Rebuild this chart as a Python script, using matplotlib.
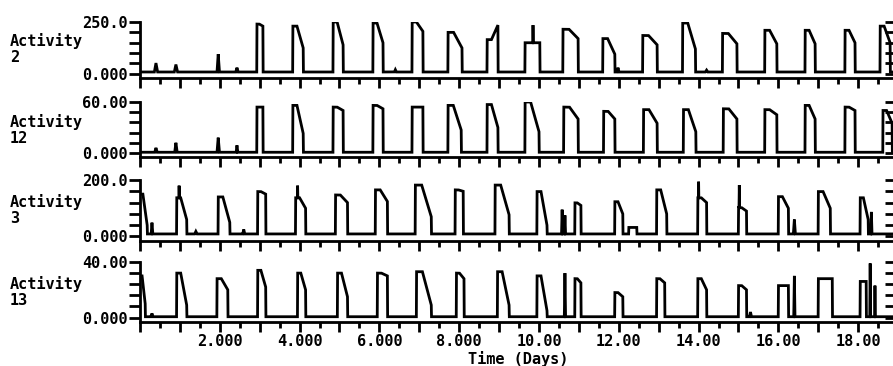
#!/usr/bin/env python3
"""Four stacked activity traces over the recording period."""

import matplotlib

matplotlib.use("Agg")
import matplotlib.pyplot as plt
from matplotlib.ticker import FixedLocator, FuncFormatter, MultipleLocator
import numpy as np


CHANNELS = ["2", "12", "3", "13"]
Y_MAX = [250.0, 60.0, 200.0, 40.0]
Y_MAX_LABELS = ["250.0", "60.00", "200.0", "40.00"]
BASELINE = [9.0, 0.8, 9.0, 0.6]

# daily bursts per channel: (onset day, offset day, peak level, level at offset)
BURSTS_2 = [
    (2.93, 3.08, 240, 230), (3.83, 4.09, 230, 125), (4.84, 5.09, 250, 140),
    (5.84, 6.09, 245, 150), (6.82, 7.09, 250, 205), (7.72, 8.07, 200, 125),
    (8.70, 8.97, 165, 235), (9.65, 10.02, 150, 150), (10.60, 10.98, 215, 170),
    (11.60, 11.90, 170, 95), (12.60, 12.96, 185, 140), (13.60, 13.92, 245, 120),
    (14.60, 14.96, 195, 145), (15.66, 15.96, 210, 145), (16.67, 16.92, 210, 145),
    (17.67, 17.92, 210, 150), (18.55, 18.80, 230, 150),
]
BURSTS_12 = [
    (2.93, 3.08, 54, 54), (3.83, 4.09, 56, 23), (4.84, 5.09, 54, 50),
    (5.84, 6.09, 56, 52), (6.82, 7.09, 54, 54), (7.72, 8.05, 56, 27),
    (8.70, 8.97, 57, 30), (9.65, 10.00, 60, 25), (10.62, 10.98, 54, 40),
    (11.62, 11.90, 49, 40), (12.62, 12.96, 51, 35), (13.62, 13.93, 51, 25),
    (14.62, 14.96, 52, 40), (15.66, 15.96, 51, 45), (16.67, 16.92, 56, 40),
    (17.67, 17.92, 54, 50), (18.62, 18.85, 50, 35),
]
BURSTS_3 = [
    (0.00, 0.18, 150, 40), (0.92, 1.17, 137, 60), (1.96, 2.25, 140, 50),
    (2.95, 3.15, 159, 150), (3.90, 4.15, 137, 100), (4.90, 5.20, 147, 120),
    (5.90, 6.20, 165, 124), (6.90, 7.30, 182, 70), (7.90, 8.10, 165, 160),
    (8.90, 9.25, 182, 77), (9.95, 10.20, 159, 40), (10.90, 11.05, 119, 110),
    (11.90, 12.10, 123, 80), (12.25, 12.45, 32, 32), (12.95, 13.20, 165, 80),
    (13.98, 14.20, 137, 120), (15.00, 15.20, 102, 90), (16.00, 16.25, 141, 100),
    (17.00, 17.30, 159, 100), (18.05, 18.25, 137, 60),
]
BURSTS_13 = [
    (0.00, 0.13, 30, 10), (0.92, 1.17, 32, 9), (1.93, 2.20, 28, 20),
    (2.95, 3.15, 34, 22), (3.95, 4.15, 32, 20), (4.95, 5.20, 32, 15),
    (5.95, 6.20, 32, 30), (6.93, 7.30, 33, 9), (7.93, 8.12, 32, 28),
    (8.96, 9.25, 33, 9), (9.95, 10.20, 30, 5), (10.90, 11.05, 28, 25),
    (11.90, 12.10, 18, 15), (12.95, 13.15, 28, 25), (13.98, 14.20, 28, 20),
    (15.00, 15.20, 23, 20), (16.00, 16.25, 23, 23), (17.00, 17.35, 28, 28),
    (18.05, 18.20, 26, 26),
]

# short isolated spikes: (day, level, width in days)
SPIKES_2 = [
    (0.40, 52, 0.08), (0.90, 45, 0.08), (1.96, 95, 0.06), (2.43, 30, 0.06),
    (9.85, 235, 0.03), (11.98, 30, 0.05), (6.40, 20, 0.05), (14.2, 18, 0.06),
]
SPIKES_12 = [(0.40, 6, 0.06), (0.90, 12, 0.06), (1.96, 18, 0.06), (2.43, 9, 0.04)]
SPIKES_3 = [
    (0.30, 49, 0.04), (0.98, 180, 0.03), (3.95, 180, 0.03), (10.58, 95, 0.03),
    (10.65, 75, 0.03), (14.00, 194, 0.03), (15.02, 182, 0.03), (16.40, 60, 0.05),
    (18.33, 87, 0.03), (2.60, 25, 0.05), (1.40, 18, 0.06),
]
SPIKES_13 = [
    (0.30, 3, 0.05), (10.65, 32, 0.03), (15.30, 4, 0.05), (16.40, 30, 0.03),
    (18.30, 39, 0.02), (18.42, 23, 0.02),
]

BURSTS = [BURSTS_2, BURSTS_12, BURSTS_3, BURSTS_13]
SPIKES = [SPIKES_2, SPIKES_12, SPIKES_3, SPIKES_13]

# page geometry in pixels
FIG_W, FIG_H = 893, 366
TOP_ROWS = [22, 102, 180, 262]
AXIS_ROWS = [78, 157, 241, 322]
LABEL_ROWS = [49, 130, 210, 292]
X_LEFT, X_RIGHT = 140, 896
PX_PER_DAY = 39.9


def trace(bursts, spikes, base, t):
    y = np.full_like(t, base)
    for on, off, peak, tail in bursts:
        hold = on + 0.4 * (off - on)
        xs = [on - 0.004, on, hold, off, off + 0.004]
        ys = [base, peak, peak, tail, base]
        y = np.maximum(y, np.interp(t, xs, ys, left=0, right=0))
    for day, level, width in spikes:
        xs = [day - width / 2, day, day + width / 2]
        ys = [base, level, base]
        y = np.maximum(y, np.interp(t, xs, ys, left=0, right=0))
    return y


def day_label(v, _pos):
    if v < 1 or int(round(v)) % 2:
        return ""
    return f"{v:.3f}" if v < 10 else f"{v:.2f}"


def main() -> None:
    plt.rcParams.update(
        {
            "font.family": "DejaVu Sans Mono",
            "font.weight": "bold",
            "font.size": 11,
        }
    )
    fig = plt.figure(figsize=(FIG_W / 100, FIG_H / 100), dpi=100)
    t = np.arange(0.0, 19.0, 0.002)
    x_max = (X_RIGHT - X_LEFT) / PX_PER_DAY

    for i, ch in enumerate(CHANNELS):
        top, axis_row = TOP_ROWS[i], AXIS_ROWS[i]
        ax = fig.add_axes(
            [
                X_LEFT / FIG_W,
                1 - axis_row / FIG_H,
                (X_RIGHT - X_LEFT) / FIG_W,
                (axis_row - top) / FIG_H,
            ]
        )
        ymax = Y_MAX[i]
        y = trace(BURSTS[i], SPIKES[i], BASELINE[i], t)
        ax.plot(t, y, color="black", linewidth=2.0, solid_joinstyle="miter")
        ax.set_xlim(0, x_max)
        ax.set_ylim(-0.08 * ymax, ymax)

        for side in ("top", "right"):
            ax.spines[side].set_visible(False)
        for side in ("left", "bottom"):
            ax.spines[side].set_linewidth(2.0)

        yt = np.linspace(0, ymax, 6)
        ax.yaxis.set_major_locator(FixedLocator(yt))
        ax.set_yticklabels(["0.000", "", "", "", "", Y_MAX_LABELS[i]])
        ax.tick_params(axis="y", direction="out", length=8, width=2, pad=1)

        ax.xaxis.set_major_locator(MultipleLocator(1.0))
        ax.xaxis.set_minor_locator(MultipleLocator(0.5))
        ax.xaxis.set_major_formatter(FuncFormatter(day_label))
        ax.tick_params(axis="x", which="major", direction="out", length=7.5, width=2, pad=1)
        ax.tick_params(axis="x", which="minor", direction="out", length=4, width=2)
        if i < len(CHANNELS) - 1:
            ax.tick_params(axis="x", labelbottom=False)

        # inward ticks of the right-hand scale
        rax = ax.twinx()
        rax.set_ylim(ax.get_ylim())
        rax.yaxis.set_major_locator(FixedLocator(yt))
        rax.set_yticklabels([])
        rax.tick_params(axis="y", direction="in", length=8, width=2)
        for side in ("top", "left", "bottom", "right"):
            rax.spines[side].set_visible(False)

        fig.text(
            10 / FIG_W,
            1 - LABEL_ROWS[i] / FIG_H,
            f"Activity\n{ch}",
            ha="left",
            va="center",
            linespacing=1.15,
        )

    fig.text(518 / FIG_W, 1 - 359 / FIG_H, "Time (Days)", ha="center", va="center")
    fig.savefig("out.png", dpi=100)
    plt.close(fig)


if __name__ == "__main__":
    main()
